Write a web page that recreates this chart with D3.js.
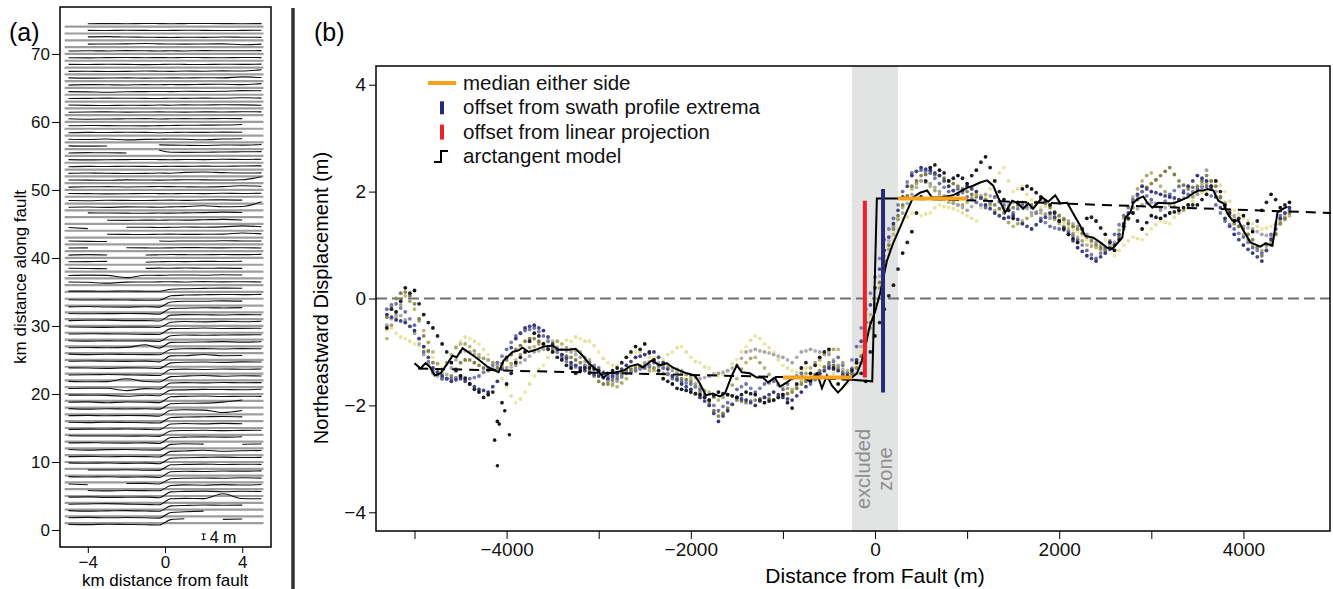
<!DOCTYPE html>
<html>
<head>
<meta charset="utf-8">
<script src="https://cdn.jsdelivr.net/npm/d3@7"></script>
<style>
  body { margin: 0; background: #fff; }
  svg { display: block; font-family: 'Liberation Sans', Arial, sans-serif; }
</style>
</head>
<body>
<div id="chart"></div>
<script>
'use strict';

// ---------- panel (a): one elevation profile per km along the fault ----------
const profileKm = d3.range(1, 75);
const profileX = [-5, -4, -3, -2, -1, -0.3, 0.3, 1, 2, 3, 4, 5]; // km from fault
// metres above each grey baseline, 'x' = no data
const profileRows = [
  '-0.8 -1.0 -0.7 -0.9 -1.1 -1.3 2.5 3.1 x 2.7 2.9 x',
  '-0.9 -0.7 -1.0 -0.8 -1.0 -1.2 2.7 3.2 3.7 x 3.1 x',
  '-0.7 -1.1 -0.9 -0.7 -1.0 -1.2 2.6 2.9 3.2 3.0 3.1 x',
  '-1.0 -0.8 -0.6 -0.9 -1.2 -1.4 2.8 3.1 2.9 6.3 3.0 2.8',
  '-0.8 -0.6 -1.0 -0.9 -0.8 -1.2 2.9 3.2 3.4 3.0 3.3 3.1',
  'x -0.9 -1.2 -0.9 -1.0 -1.1 2.6 3.0 2.8 3.2 2.9 3.3',
  '-1.1 -1.6 x -0.8 -0.7 -1.1 2.5 2.9 3.1 2.9 3.2 3.0',
  '-0.7 -1.0 -0.8 -1.1 -0.9 -1.3 2.7 3.0 2.9 3.2 3.1 3.3',
  'x -0.8 -0.9 -0.7 -1.0 -1.1 2.8 3.1 3.3 3.0 3.2 3.1',
  '-0.6 -0.9 -0.7 -1.0 -0.8 -1.2 2.6 3.0 3.2 3.4 3.1 3.2',
  '-1.0 -0.8 -1.1 -0.9 -1.0 -1.3 2.7 2.9 3.5 2.8 3.1 3.3',
  '-0.8 -1.2 -0.9 -0.8 -1.1 -1.2 2.8 3.2 3.0 x 2.9 3.1',
  '-0.9 -0.7 -1.0 -1.1 -0.9 -1.3 2.9 3.1 3.3 3.1 3.4 x',
  '-0.7 -0.9 -0.8 -1.0 -0.9 -1.1 2.7 3.0 3.2 2.9 3.1 3.2',
  '-1.0 -0.8 -0.9 -0.7 -1.0 -1.2 2.8 3.1 2.9 3.2 3.0 x',
  '-0.8 -1.0 -0.7 -0.9 -1.1 -1.3 2.6 2.9 3.1 3.3 3.0 x',
  '-0.9 -0.7 -1.0 -0.8 -0.9 -1.2 2.9 3.2 3.0 1.3 2.7 x',
  '-0.7 -1.1 -0.8 -1.0 -0.8 -1.1 2.7 3.0 3.1 3.8 5.3 x',
  '-1.0 -0.8 -1.4 -0.9 -1.0 -1.3 2.8 3.1 3.3 3.0 3.2 3.1',
  '-0.8 -0.9 -1.0 -1.6 -0.9 -1.2 2.7 2.9 3.2 3.1 3.0 3.3',
  '-0.9 -0.7 -0.8 -2.4 -1.0 -1.3 2.9 3.2 3.0 3.3 3.1 3.2',
  '-0.7 -1.0 -0.9 1.1 -0.8 -1.1 2.6 3.0 3.4 2.9 3.2 3.1',
  '-1.0 -0.8 -0.7 -0.9 -1.1 -1.4 2.8 3.1 2.9 3.2 3.0 3.2',
  '-0.8 -0.9 -1.1 -0.8 -0.9 -1.2 2.7 3.2 3.3 3.1 3.4 3.3',
  '-0.9 -0.7 -0.9 -1.0 -0.8 -1.3 2.9 3.0 3.8 3.0 3.1 x',
  '-0.7 -1.0 -0.8 -0.9 -1.0 -1.1 2.6 3.1 3.2 2.9 3.2 3.1',
  '-1.0 -0.8 -1.0 -0.7 1.1 -1.2 2.8 2.9 3.1 3.3 3.0 3.2',
  '-0.8 -1.1 -0.9 -1.0 -0.9 -1.3 2.7 3.2 3.0 3.2 3.3 3.4',
  '-0.9 -0.7 -0.8 -0.9 -1.1 -1.2 2.9 3.0 3.3 3.0 3.1 3.2',
  '-0.7 -0.9 -1.0 -0.8 -0.8 -1.1 2.6 3.1 2.9 3.2 3.0 3.3',
  '-1.0 -0.8 -0.7 -1.0 -1.0 -1.3 2.8 3.2 3.1 2.9 3.2 3.1',
  '-0.8 -1.0 -0.9 -0.8 -0.9 -1.2 2.7 2.9 3.2 3.1 3.3 x',
  '-0.9 -0.7 -1.0 -1.1 -0.8 -1.1 2.5 3.0 3.0 3.3 3.1 x',
  '-0.7 -0.9 -0.8 -0.9 -1.0 -1.0 2.1 2.6 2.8 3.0 2.9 3.1',
  '0.6 0.6 0.5 0.7 0.5 0.5 1.9 2.3 2.5 2.7 2.6 x',
  '2.2 2.0 1.4 2.1 2.2 2.3 2.4 2.2 2.5 2.3 2.4 2.2',
  '2.0 2.3 2.1 0.5 2.2 2.1 2.3 2.4 2.2 2.5 2.3 x',
  '2.3 2.1 2.0 x 2.2 2.4 2.3 2.5 2.3 2.4 2.2 x',
  '2.1 2.2 2.4 x 1.8 2.1 2.3 2.2 2.4 2.3 2.5 x',
  '2.0 2.3 2.1 x 2.1 2.2 2.4 2.3 2.2 2.4 2.3 2.5',
  '2.2 2.3 x 2.4 2.3 2.2 2.3 2.5 2.4 2.3 2.4 2.2',
  '2.4 2.1 2.0 x x 2.3 2.2 2.4 2.3 2.5 2.4 2.3',
  '1.8 x 2.3 2.2 2.1 2.3 2.4 2.2 2.3 2.4 3.2 2.6',
  '2.3 1.5 x 2.4 2.5 2.3 2.4 2.6 2.5 2.7 3.4 2.8',
  'x x 2.6 2.5 2.7 2.6 2.8 2.7 2.9 3.2 2.8 x',
  'x 3.0 2.9 2.8 2.7 2.9 2.8 3.0 3.2 3.5 3.3 x',
  '2.2 2.3 2.1 2.4 2.3 2.2 2.4 2.6 3.2 2.5 2.7 6.0',
  '2.1 2.0 2.3 2.2 2.1 2.3 2.4 2.2 2.5 2.6 2.4 x',
  '2.3 2.2 2.0 2.1 2.3 2.2 2.1 2.3 2.2 2.4 2.3 2.5',
  '2.0 2.2 2.3 2.1 2.2 2.4 2.3 2.2 2.1 2.3 2.9 2.6',
  '2.2 2.1 2.0 2.3 2.2 2.1 2.2 2.4 2.3 2.2 2.4 4.5',
  '2.1 2.3 2.2 2.0 2.1 2.3 2.2 2.8 3.0 2.6 2.3 2.4',
  '2.0 2.2 2.1 2.3 2.2 2.1 2.3 2.2 2.4 2.3 2.5 2.6',
  '2.2 2.0 2.1 2.2 2.3 2.2 2.1 2.3 2.2 2.4 2.3 2.5',
  '2.1 2.3 2.2 2.1 x 4.0 2.6 2.5 2.6 2.8 2.9 3.0',
  '2.3 2.1 2.2 x x 3.0 2.8 2.7 2.6 2.9 2.8 3.2',
  '2.2 2.0 2.3 1.7 2.1 2.2 2.3 2.2 1.8 2.3 2.5 x',
  '2.0 2.2 2.1 2.3 2.2 2.0 2.1 2.3 2.2 2.4 2.3 x',
  '2.1 2.3 2.2 2.1 2.0 2.2 2.3 2.4 2.5 2.6 3.0 x',
  '2.2 1.9 2.1 2.2 2.3 2.1 2.2 2.3 2.2 2.4 2.3 x',
  '2.0 2.2 2.3 2.1 2.2 2.3 2.2 2.1 2.3 2.2 2.4 2.3',
  '2.3 2.1 2.0 2.2 2.1 2.3 2.2 2.4 2.3 2.5 2.4 2.2',
  '2.1 2.2 2.4 2.3 2.2 2.1 2.3 2.2 2.4 2.3 2.6 2.4',
  '2.2 2.0 1.7 2.1 2.2 2.3 2.2 2.4 2.3 2.4 2.9 2.8',
  '2.0 2.3 2.2 2.1 2.3 2.2 2.4 2.3 2.5 2.6 2.3 3.0',
  '2.3 2.1 2.2 2.3 2.1 2.2 2.3 2.2 2.4 2.3 3.0 2.5',
  '2.1 2.2 2.0 2.1 2.3 2.2 2.1 2.3 2.2 2.4 2.3 3.2',
  '2.2 2.1 2.3 2.2 2.0 2.1 2.3 2.2 2.1 2.3 2.2 2.4',
  '2.1 2.0 2.2 2.3 2.1 2.2 2.1 2.3 2.2 2.1 2.3 2.2',
  '2.0 2.2 2.1 2.3 2.2 2.1 2.2 2.1 2.3 2.2 2.2 2.3',
  'x 2.1 2.2 2.3 2.5 2.3 2.2 2.1 2.2 2.3 1.7 2.1',
  'x 2.4 2.6 2.3 2.2 2.1 2.0 2.2 2.1 2.3 2.2 2.1',
  'x 2.2 2.1 2.3 2.2 2.1 2.2 2.3 2.2 2.1 2.2 2.3',
  'x 2.1 2.2 2.1 2.3 2.2 2.1 2.2 2.3 2.2 2.1 2.2'
];
const profileTicksY = [0, 10, 20, 30, 40, 50, 60, 70];
const profileTicksX = [-4, 0, 4];

// ---------- panel (b): swath profiles across the fault ----------
const swathX = d3.range(-5300, 4501, 100);   // sample positions, set 1 (m)
const swathX2 = d3.range(-5250, 4451, 100);  // sample positions, set 2 (m)

const swathPale = [
  -0.6,-0.65,-0.75,-0.85,-0.95,-1.1,-1.3,-1.05,-0.8,-0.75,
  -0.85,-1.05,-1.3,-1.65,-1.95,-1.75,-1.45,-1.25,-1.0,-0.85,
  -0.8,-0.75,-0.8,-1.0,-1.2,-1.25,-1.1,-1.0,-1.05,-1.1,
  -1.15,-1.0,-0.9,-1.1,-1.2,-1.3,-1.45,-1.35,-1.15,-0.9,
  -0.7,-0.85,-1.0,-1.25,-1.35,-1.35,-1.3,-1.25,-1.3,-1.35,
  -1.6,-1.25,-0.7,0.0,0.5,1.1,1.5,1.6,1.55,1.6,
  1.75,1.7,1.65,1.55,1.45,1.9,2.2,2.45,2.0,2.1,
  1.85,1.7,1.75,1.5,1.35,1.25,1.1,0.95,1.1,0.8,
  1.0,1.15,1.1,1.3,1.45,1.4,1.65,1.7,1.95,2.0,
  2.2,2.0,1.65,1.5,1.4,1.3,1.35,1.5,1.6];
const swathKhaki = [
  -0.75,-0.35,0.05,-0.2,-0.6,-1.0,-1.4,-1.05,-0.85,-0.9,
  -1.05,-1.15,-1.2,-1.3,-1.15,-1.0,-0.9,-0.85,-0.8,-0.85,
  -0.95,-1.0,-1.15,-1.35,-1.55,-1.65,-1.5,-1.35,-1.3,-1.35,
  -1.3,-1.3,-1.35,-1.5,-1.65,-1.75,-1.9,-1.8,-1.5,-1.2,
  -1.1,-1.3,-1.5,-1.65,-1.7,-1.55,-1.3,-1.15,-1.0,-0.95,
  -1.35,-1.4,-0.9,-0.2,0.6,1.2,1.7,2.05,2.2,2.1,
  1.95,1.8,1.75,1.8,1.95,1.85,1.65,1.5,1.35,1.45,
  1.55,1.6,1.55,1.4,1.3,1.15,1.0,0.95,0.9,1.05,
  1.5,1.9,2.2,2.35,2.1,1.9,1.6,1.75,2.0,2.15,
  2.0,1.8,1.5,1.2,1.0,0.9,1.05,1.4,1.55];
const swathGray = [
  -0.5,-0.3,-0.4,-0.65,-1.05,-1.4,-1.5,-1.3,-1.0,-1.0,
  -1.1,-1.15,-1.25,-1.3,-1.25,-1.15,-1.0,-0.95,-0.9,-0.95,
  -1.0,-1.1,-1.25,-1.4,-1.55,-1.55,-1.4,-1.3,-1.2,-1.15,
  -1.25,-1.35,-1.4,-1.45,-1.5,-1.45,-1.4,-1.35,-1.25,-1.0,
  -0.95,-1.0,-1.05,-1.1,-1.2,-1.0,-0.95,-1.0,-1.05,-1.25,
  -1.4,-1.2,-0.6,0.0,0.8,1.35,1.6,1.95,2.2,2.15,
  2.0,1.85,1.75,1.65,1.8,1.95,1.9,1.7,1.8,1.75,
  1.6,1.65,1.5,1.55,1.45,1.35,1.2,1.05,0.95,1.05,
  1.35,1.6,1.75,1.8,1.65,1.75,1.85,1.9,1.95,2.4,
  2.0,1.75,1.55,1.35,1.3,1.2,1.15,1.45,1.6];
const swathOlive = [
  -0.35,0.0,0.12,-0.1,-0.7,-1.2,-1.5,-1.45,-1.2,-1.15,
  -1.25,-1.35,-1.3,-1.15,-0.95,-0.8,-0.75,-0.85,-0.95,-1.05,
  -1.1,-1.2,-1.35,-1.55,-1.6,-1.45,-1.35,-1.3,-1.25,-1.3,
  -1.4,-1.45,-1.5,-1.55,-1.75,-1.95,-2.2,-2.05,-1.9,-1.95,
  -1.9,-1.85,-1.9,-1.8,-1.75,-1.6,-1.5,-1.35,-1.2,-1.3,
  -1.45,-1.3,-0.8,-0.1,0.7,1.3,1.75,2.1,2.3,2.35,
  2.3,2.2,2.1,2.0,1.9,1.85,1.75,1.6,1.7,1.8,
  1.75,1.85,1.7,1.55,1.4,1.3,1.15,1.0,0.9,1.0,
  1.3,1.7,2.0,2.15,2.3,2.45,2.2,2.05,2.1,2.3,
  2.1,1.7,1.4,1.3,1.1,0.8,1.0,1.4,1.6];
const swathSlate = [
  -0.2,-0.1,-0.25,-0.5,-1.0,-1.35,-1.5,-1.5,-1.45,-1.5,
  -1.45,-1.3,-1.2,-0.95,-0.7,-0.6,-0.55,-0.7,-0.9,-1.1,
  -1.25,-1.3,-1.2,-1.3,-1.45,-1.5,-1.4,-1.35,-1.3,-1.2,
  -1.3,-1.5,-1.55,-1.6,-1.7,-1.9,-2.1,-1.95,-1.7,-1.6,
  -1.75,-1.6,-1.55,-1.7,-1.5,-1.4,-1.6,-1.45,-1.25,-1.1,
  -1.4,-0.9,-0.2,0.4,1.1,1.5,2.0,2.35,2.4,2.35,
  2.15,2.0,2.05,1.9,1.8,1.7,1.9,1.75,1.6,1.75,
  1.7,1.5,1.35,1.3,1.25,1.1,0.9,0.75,0.95,1.2,
  1.55,1.85,2.0,1.85,1.7,1.95,2.1,1.95,2.05,2.1,
  1.75,1.45,1.3,1.15,0.95,0.85,1.2,1.55,1.65];
const swathNavy = [
  -0.3,-0.4,-0.45,-0.6,-0.9,-1.3,-1.45,-1.55,-1.5,-1.6,
  -1.7,-1.75,-1.55,-1.1,-0.75,-0.55,-0.5,-0.6,-0.85,-1.05,
  -1.2,-1.3,-1.4,-1.45,-1.5,-1.4,-1.25,-1.1,-1.05,-1.0,
  -1.2,-1.45,-1.6,-1.7,-1.85,-2.0,-2.3,-2.1,-1.85,-1.9,
  -2.0,-1.85,-1.75,-1.85,-1.9,-1.75,-1.55,-1.4,-1.3,-1.35,
  -1.5,-1.15,-0.45,0.2,0.9,1.4,1.9,2.3,2.45,2.4,
  2.3,2.1,1.95,2.1,2.0,1.75,1.6,1.5,1.55,1.4,
  1.3,1.45,1.6,1.45,1.2,0.95,0.8,0.7,0.85,1.0,
  1.4,1.8,2.1,2.0,1.95,1.9,1.85,2.1,2.3,2.2,
  1.9,1.5,1.2,1.0,0.85,0.7,1.1,1.5,1.7];
const swathBlack = [
  -0.55,-0.25,0.2,0.15,-0.3,-0.55,-0.85,-1.2,-1.45,-1.6,
  -1.75,-1.8,-2.3,-1.6,-1.2,-1.0,-0.65,-0.85,-1.0,-1.15,
  -1.3,-1.35,-1.3,-1.35,-1.4,-1.3,-1.1,-0.9,-0.85,-1.15,
  -1.5,-1.6,-1.7,-1.75,-1.8,-1.9,-1.75,-1.8,-1.85,-1.75,
  -1.8,-1.95,-1.9,-1.8,-2.05,-1.3,-1.4,-1.1,-0.95,-1.6,
  -1.45,-1.2,-1.55,-0.7,-0.2,0.25,0.85,1.25,1.9,2.45,
  2.4,2.2,2.3,2.15,2.4,2.65,2.2,1.85,1.5,2.05,
  2.05,1.9,1.75,1.45,1.2,1.05,1.5,1.45,1.2,0.9,
  1.35,1.6,1.3,1.55,1.5,1.6,1.65,1.75,1.75,1.95,
  2.2,1.75,1.45,1.55,1.25,1.65,1.95,1.7,1.8];

const swathPale2 = [
  -0.55,-0.72,-0.8,-0.88,-1.0,-1.22,-1.2,-0.9,-0.72,-0.8,
  -0.95,-1.2,-1.5,-1.82,-1.88,-1.6,-1.32,-1.1,-0.9,-0.78,
  -0.72,-0.8,-0.88,-1.12,-1.25,-1.2,-1.02,-1.0,-1.1,-1.08,
  -1.05,-0.92,-1.0,-1.18,-1.28,-1.4,-1.42,-1.22,-1.0,-0.78,
  -0.75,-0.92,-1.15,-1.3,-1.38,-1.3,-1.25,-1.3,-1.4,-1.5,
  -1.45,-1.0,-0.35,0.25,0.8,1.3,1.52,1.6,1.58,1.7,
  1.72,1.68,1.6,1.5,1.7,2.05,2.35,2.2,2.05,1.95,
  1.78,1.72,1.62,1.42,1.3,1.18,1.02,1.02,0.95,0.9,
  1.08,1.12,1.2,1.38,1.42,1.52,1.68,1.82,1.98,2.12,
  2.12,1.82,1.58,1.45,1.35,1.32,1.42,1.55];
const swathKhaki2 = [
  -0.5,-0.12,-0.05,-0.42,-0.82,-1.22,-1.2,-0.92,-0.85,-0.98,
  -1.12,-1.2,-1.28,-1.22,-1.05,-0.92,-0.85,-0.8,-0.8,-0.92,
  -0.98,-1.1,-1.28,-1.48,-1.62,-1.58,-1.4,-1.3,-1.35,-1.28,
  -1.28,-1.32,-1.42,-1.6,-1.72,-1.85,-1.85,-1.62,-1.32,-1.12,
  -1.2,-1.42,-1.6,-1.68,-1.62,-1.4,-1.2,-1.05,-0.95,-1.2,
  -1.42,-1.2,-0.55,0.2,0.92,1.48,1.9,2.15,2.18,2.02,
  1.85,1.78,1.75,1.88,1.92,1.75,1.55,1.42,1.4,1.5,
  1.6,1.58,1.48,1.35,1.22,1.08,0.98,0.92,0.95,1.28,
  1.72,2.05,2.3,2.22,2.0,1.72,1.65,1.9,2.1,2.1,
  1.9,1.65,1.35,1.1,0.95,0.98,1.22,1.48];
const swathGray2 = [
  -0.38,-0.32,-0.52,-0.85,-1.22,-1.45,-1.42,-1.15,-0.98,-1.05,
  -1.12,-1.2,-1.28,-1.28,-1.2,-1.08,-0.98,-0.92,-0.92,-0.98,
  -1.05,-1.18,-1.32,-1.48,-1.58,-1.48,-1.35,-1.25,-1.18,-1.2,
  -1.3,-1.38,-1.42,-1.48,-1.48,-1.42,-1.38,-1.3,-1.12,-0.98,
  -0.98,-1.02,-1.08,-1.15,-1.1,-0.98,-0.98,-1.02,-1.15,-1.32,
  -1.3,-0.9,-0.3,0.42,1.08,1.48,1.78,2.08,2.18,2.08,
  1.92,1.8,1.7,1.72,1.88,1.92,1.8,1.75,1.78,1.68,
  1.62,1.58,1.52,1.5,1.4,1.28,1.12,1.0,1.0,1.2,
  1.48,1.68,1.78,1.72,1.7,1.8,1.88,1.92,2.15,2.2,
  1.88,1.65,1.45,1.32,1.25,1.18,1.3,1.52];
const swathOlive2 = [
  -0.12,0.1,0.05,-0.38,-0.98,-1.38,-1.5,-1.32,-1.15,-1.2,
  -1.3,-1.32,-1.22,-1.05,-0.88,-0.75,-0.8,-0.9,-1.0,-1.08,
  -1.15,-1.28,-1.45,-1.6,-1.52,-1.4,-1.32,-1.28,-1.28,-1.35,
  -1.42,-1.48,-1.52,-1.65,-1.85,-2.1,-2.15,-1.98,-1.92,-1.92,
  -1.88,-1.88,-1.85,-1.78,-1.68,-1.55,-1.42,-1.28,-1.25,-1.38,
  -1.4,-1.08,-0.45,0.3,1.0,1.55,1.92,2.2,2.32,2.32,
  2.25,2.15,2.05,1.95,1.88,1.8,1.68,1.65,1.75,1.78,
  1.8,1.78,1.62,1.48,1.35,1.22,1.08,0.95,0.95,1.15,
  1.5,1.85,2.08,2.22,2.38,2.32,2.12,2.08,2.2,2.2,
  1.9,1.55,1.35,1.2,0.95,0.9,1.2,1.5];
const swathSlate2 = [
  -0.15,-0.18,-0.38,-0.75,-1.18,-1.42,-1.5,-1.48,-1.48,-1.48,
  -1.38,-1.25,-1.08,-0.82,-0.65,-0.58,-0.62,-0.8,-1.0,-1.18,
  -1.28,-1.25,-1.25,-1.38,-1.48,-1.45,-1.38,-1.32,-1.25,-1.25,
  -1.4,-1.52,-1.58,-1.65,-1.8,-2.0,-2.02,-1.82,-1.65,-1.68,
  -1.68,-1.58,-1.62,-1.6,-1.45,-1.5,-1.52,-1.35,-1.18,-1.25,
  -1.15,-0.55,0.1,0.75,1.3,1.75,2.18,2.38,2.38,2.25,
  2.08,2.02,1.98,1.85,1.75,1.8,1.82,1.68,1.68,1.72,
  1.6,1.42,1.32,1.28,1.18,1.0,0.82,0.85,1.08,1.38,
  1.7,1.92,1.92,1.78,1.82,2.02,2.02,2.0,2.08,1.92,
  1.6,1.38,1.22,1.05,0.9,1.02,1.38,1.6];
const swathNavy2 = [
  -0.35,-0.42,-0.52,-0.75,-1.1,-1.38,-1.5,-1.52,-1.55,-1.65,
  -1.72,-1.65,-1.32,-0.92,-0.65,-0.52,-0.55,-0.72,-0.95,-1.12,
  -1.25,-1.35,-1.42,-1.48,-1.45,-1.32,-1.18,-1.08,-1.02,-1.1,
  -1.32,-1.52,-1.65,-1.78,-1.92,-2.15,-2.2,-1.98,-1.88,-1.95,
  -1.92,-1.8,-1.8,-1.88,-1.82,-1.65,-1.48,-1.35,-1.32,-1.42,
  -1.32,-0.8,-0.12,0.55,1.15,1.65,2.1,2.38,2.42,2.35,
  2.2,2.02,2.02,2.05,1.88,1.68,1.55,1.52,1.48,1.35,
  1.38,1.52,1.52,1.32,1.08,0.88,0.75,0.78,0.92,1.2,
  1.6,1.95,2.05,1.98,1.92,1.88,1.98,2.2,2.25,2.05,
  1.7,1.35,1.1,0.92,0.78,0.9,1.3,1.6];
const swathBlack2 = [
  -0.2,-0.05,0.1,-0.1,-0.45,-0.7,-1.0,-1.35,-1.5,-1.7,
  -1.85,-1.75,-1.95,-1.4,-1.1,-0.8,-0.7,-0.95,-1.1,-1.25,
  -1.4,-1.3,-1.32,-1.4,-1.35,-1.2,-1.0,-0.95,-1.0,-1.35,
  -1.55,-1.68,-1.72,-1.78,-1.85,-1.82,-1.78,-1.82,-1.8,-1.78,
  -1.9,-1.92,-1.85,-1.95,-1.6,-1.2,-1.25,-1.0,-1.3,-1.5,
  -1.35,-1.4,-1.0,-0.45,0.05,0.55,1.05,1.6,2.2,2.5,
  2.35,2.25,2.25,2.3,2.55,2.45,2.0,1.65,1.8,2.1,
  1.98,1.82,1.6,1.3,1.12,1.3,1.52,1.32,1.05,1.1,
  1.5,1.45,1.42,1.52,1.55,1.62,1.7,1.75,1.85,2.1,
  2.0,1.6,1.5,1.4,1.45,1.8,1.85,1.75];

const outlierX = [-4130, -4080, -3970, -4100, -4020];
const outlierY = [-2.65, -2.35, -2.55, -3.13, -2.1];

// running median of the swaths
const medianX = [-5000,-4935,-4880,-4837,-4780,-4717,-4640,-4587,-4543,-4478,-4337,-4196,-4087,-4033,
  -3935,-3870,-3826,-3760,-3685,-3598,-3500,-3435,-3326,-3250,-3174,-3109,-3011,-2946,-2902,-2815,
  -2728,-2663,-2576,-2522,-2424,-2337,-2261,-2196,-2120,-2043,-1957,-1902,-1837,-1761,-1685,-1630,
  -1554,-1500,-1446,-1359,-1283,-1217,-1163,-1087,-1033,-957,-891,-783,-707,-630,-576,-522,-467,
  -402,-348,-272,-196,-141,-100,-54,0,54,130,196,272,348,413,489,565,620,707,848,1000,1065,1141,
  1217,1283,1337,1413,1489,1543,1609,1663,1717,1815,1880,1957,2011,2087,2152,2228,2283,2370,2446,
  2522,2576,2630,2685,2717,2772,2804,2859,2913,2957,3011,3076,3152,3239,3315,3391,3446,3511,3565,
  3609,3674,3728,3783,3826,3880,3946,4000,4076,4185,4239,4315,4370,4435,4478];
const medianY = [-1.21,-1.31,-1.21,-1.27,-1.44,-1.40,-1.21,-1.07,-1.10,-0.93,-1.10,-1.29,-1.38,-1.16,
  -1.00,-0.97,-0.92,-1.00,-0.96,-0.90,-0.88,-0.96,-0.96,-0.94,-1.07,-1.21,-1.35,-1.48,-1.40,-1.38,
  -1.35,-1.27,-1.23,-1.29,-1.16,-1.25,-1.21,-1.29,-1.35,-1.40,-1.44,-1.59,-1.81,-1.78,-1.83,-1.78,
  -1.44,-1.25,-1.38,-1.40,-1.48,-1.48,-1.57,-1.48,-1.65,-1.57,-1.48,-1.46,-1.55,-1.40,-1.68,-1.44,-1.63,
  -1.76,-1.66,-1.50,-1.40,-1.16,-0.85,-0.50,-0.25,0.09,0.71,1.03,1.33,1.64,1.89,1.98,2.02,1.89,1.89,1.93,2.07,2.11,2.17,
  2.21,2.11,1.89,1.61,1.83,1.79,1.68,1.78,1.68,1.89,1.81,1.93,1.78,1.79,1.59,1.36,1.17,1.14,1.05,
  0.95,0.93,1.03,1.14,1.51,1.61,1.79,1.87,1.91,1.79,1.70,1.79,1.78,1.78,1.83,1.89,1.96,2.02,2.02,
  2.05,2.02,1.83,1.78,1.59,1.46,1.46,1.27,1.05,0.97,1.03,0.99,1.61,1.68,1.72];

// arctangent model fit
const modelX = [-4960, -1000, -250, -30, 20, 250, 1000, 4950];
const modelY = [-1.31, -1.47, -1.52, -1.55, 1.87, 1.87, 1.84, 1.60];
const zoneX = [-250, 250];            // excluded zone
const sideX0 = [-1000, 250];          // median either side
const sideX1 = [-250, 1000];
const sideY = [-1.48, 1.87];
const linearX = -110, linearY = [-1.48, 1.83];     // offset from linear projection
const extremaX = 87, extremaY = [-1.76, 2.05];     // offset from swath profile extrema

const legendLabels = ['median either side', 'offset from swath profile extrema',
  'offset from linear projection', 'arctangent model'];

// ---------- drawing ----------
const W = 1333, H = 589;
const svg = d3.select('#chart').append('svg').attr('width', W).attr('height', H);
svg.append('rect').attr('width', W).attr('height', H).attr('fill', '#fff');

// panel (a)
const xA = d3.scaleLinear().domain([-5.44, 5.49]).range([60, 271]);
const yA = d3.scaleLinear().domain([-2.5, 76.9]).range([547, 7]);
const kmPerMetre = 0.21; // vertical exaggeration of the profiles (see 4 m bar)

const gA = svg.append('g');
gA.selectAll('line.base')
  .data(profileKm)
  .join('line')
  .attr('class', 'base')
  .attr('x1', xA(-5.2)).attr('x2', xA(5.1))
  .attr('y1', d => yA(d)).attr('y2', d => yA(d))
  .attr('stroke', '#9d9d9d').attr('stroke-width', 2.2);

const profLine = d3.line()
  .defined(d => d.v !== null)
  .x(d => xA(d.x))
  .y(d => yA(d.km + d.v * kmPerMetre))
  .curve(d3.curveMonotoneX);

const profiles = profileRows.map((row, i) => row.split(' ').map((t, j) => ({
  km: profileKm[i], x: profileX[j], v: t === 'x' ? null : +t
})));

gA.selectAll('path.prof')
  .data(profiles)
  .join('path')
  .attr('class', 'prof')
  .attr('d', profLine)
  .attr('fill', 'none')
  .attr('stroke', '#111')
  .attr('stroke-width', 1.1);

gA.append('rect')
  .attr('x', 60).attr('y', 7).attr('width', 211).attr('height', 540)
  .attr('fill', 'none').attr('stroke', '#000').attr('stroke-width', 1.5);

gA.append('g')
  .attr('transform', 'translate(60,0)')
  .call(d3.axisLeft(yA).tickValues(profileTicksY).tickSize(8).tickPadding(2))
  .call(g => g.select('.domain').remove())
  .call(g => g.selectAll('text').attr('font-size', 17).attr('fill', '#111'));

gA.append('g')
  .attr('transform', 'translate(0,547)')
  .call(d3.axisBottom(xA).tickValues(profileTicksX).tickSize(6).tickPadding(3))
  .call(g => g.select('.domain').remove())
  .call(g => g.selectAll('text').attr('font-size', 17).attr('fill', '#111'));

gA.append('text').attr('x', xA(0)).attr('y', 586).attr('text-anchor', 'middle')
  .attr('font-size', 17).text('km distance from fault');
gA.append('text').attr('transform', 'translate(26,277) rotate(-90)').attr('text-anchor', 'middle')
  .attr('font-size', 17).text('km distance along fault');

// 4 m scale bar
const barX = xA(2), barMid = yA(-1);
const barHalf = (yA(0) - yA(4 * kmPerMetre)) / 2;
gA.append('path')
  .attr('d', `M${barX - 2},${barMid - barHalf}h4M${barX},${barMid - barHalf}V${barMid + barHalf}M${barX - 2},${barMid + barHalf}h4`)
  .attr('stroke', '#000').attr('stroke-width', 1);
gA.append('text').attr('x', barX + 6).attr('y', barMid + 6).attr('font-size', 16).text('4 m');

svg.append('text').attr('x', 9).attr('y', 41).attr('font-size', 25).text('(a)');

// separator between panels
svg.append('line').attr('x1', 293).attr('x2', 293).attr('y1', 8).attr('y2', H)
  .attr('stroke', '#333').attr('stroke-width', 3.5);

// panel (b)
const xB = d3.scaleLinear().domain([-5418, 4940]).range([376, 1330]);
const yB = d3.scaleLinear().domain([-4.35, 4.35]).range([531, 66]);
const gB = svg.append('g');

gB.append('rect')
  .attr('x', xB(zoneX[0])).attr('width', xB(zoneX[1]) - xB(zoneX[0]))
  .attr('y', yB(4.35)).attr('height', yB(-4.35) - yB(4.35))
  .attr('fill', '#e2e3e3');

gB.append('line')
  .attr('x1', xB(-5418)).attr('x2', xB(4940)).attr('y1', yB(0)).attr('y2', yB(0))
  .attr('stroke', '#707070').attr('stroke-width', 2).attr('stroke-dasharray', '11,5');

const swaths = [
  { xs: swathX, vals: swathPale, color: '#ece8a4' },
  { xs: swathX2, vals: swathPale2, color: '#e4e0a0' },
  { xs: swathX, vals: swathKhaki, color: '#bcb87c' },
  { xs: swathX2, vals: swathGray2, color: '#b0b0aa' },
  { xs: swathX, vals: swathGray, color: '#a3a3a0' },
  { xs: swathX2, vals: swathKhaki2, color: '#aaa66c' },
  { xs: swathX, vals: swathOlive, color: '#8c894f' },
  { xs: swathX2, vals: swathOlive2, color: '#7f7c48' },
  { xs: swathX, vals: swathSlate, color: '#6c6ea8' },
  { xs: swathX2, vals: swathSlate2, color: '#7d7fb0' },
  { xs: swathX, vals: swathNavy, color: '#34367a' },
  { xs: swathX2, vals: swathNavy2, color: '#44468a' },
  { xs: swathX, vals: swathBlack, color: '#151515' },
  { xs: swathX2, vals: swathBlack2, color: '#222233' }
];

swaths.forEach(s => {
  gB.append('g').selectAll('circle')
    .data(s.vals)
    .join('circle')
    .attr('cx', (d, i) => xB(s.xs[i]))
    .attr('cy', d => yB(d))
    .attr('r', 1.9)
    .attr('fill', s.color);
});

gB.append('g').selectAll('circle')
  .data(outlierY)
  .join('circle')
  .attr('cx', (d, i) => xB(outlierX[i]))
  .attr('cy', d => yB(d))
  .attr('r', 1.8)
  .attr('fill', '#151515');

// running median
const medLine = d3.line().x(d => xB(d[0])).y(d => yB(d[1]));
gB.append('path')
  .attr('d', medLine(d3.zip(medianX, medianY)))
  .attr('fill', 'none').attr('stroke', '#000').attr('stroke-width', 2);

// arctangent model: dashed outside the excluded zone, solid inside
const model = d3.zip(modelX, modelY);
const modelParts = [
  { pts: model.filter(d => d[0] <= zoneX[0]), dash: '10,7' },
  { pts: model.filter(d => d[0] >= zoneX[0] && d[0] <= zoneX[1]), dash: null },
  { pts: model.filter(d => d[0] >= zoneX[1]), dash: '10,7' }
];
modelParts.forEach(p => {
  gB.append('path')
    .attr('d', medLine(p.pts))
    .attr('fill', 'none').attr('stroke', '#000').attr('stroke-width', 2)
    .attr('stroke-dasharray', p.dash);
});

// median either side
gB.selectAll('line.side')
  .data(sideY)
  .join('line')
  .attr('class', 'side')
  .attr('x1', (d, i) => xB(sideX0[i])).attr('x2', (d, i) => xB(sideX1[i]))
  .attr('y1', d => yB(d)).attr('y2', d => yB(d))
  .attr('stroke', '#f6a21c').attr('stroke-width', 4);

gB.append('line')
  .attr('x1', xB(linearX)).attr('x2', xB(linearX))
  .attr('y1', yB(linearY[0])).attr('y2', yB(linearY[1]))
  .attr('stroke', '#ec2229').attr('stroke-width', 4);

gB.append('line')
  .attr('x1', xB(extremaX)).attr('x2', xB(extremaX))
  .attr('y1', yB(extremaY[0])).attr('y2', yB(extremaY[1]))
  .attr('stroke', '#272a78').attr('stroke-width', 4);

// excluded zone label
const zoneMid = xB((zoneX[0] + zoneX[1]) / 2);
gB.append('text')
  .attr('transform', `translate(${zoneMid - 5},469) rotate(-90)`)
  .attr('text-anchor', 'middle').attr('font-size', 20).attr('fill', '#8e8e8e')
  .selectAll('tspan')
  .data(['excluded', 'zone'])
  .join('tspan')
  .attr('x', 0).attr('dy', (d, i) => i ? '1.1em' : 0)
  .text(d => d);

// frame and axes
gB.append('rect')
  .attr('x', 376).attr('y', 66).attr('width', 954).attr('height', 465)
  .attr('fill', 'none').attr('stroke', '#000').attr('stroke-width', 1.5);

gB.append('g')
  .attr('transform', 'translate(376,0)')
  .call(d3.axisLeft(yB).tickValues([-4, -2, 0, 2, 4]).tickSize(7).tickPadding(3))
  .call(g => g.select('.domain').remove())
  .call(g => g.selectAll('text').attr('font-size', 19).attr('fill', '#111'));

gB.append('g')
  .attr('transform', 'translate(0,531)')
  .call(d3.axisBottom(xB).tickValues(d3.range(-5000, 4001, 1000)).tickSize(8).tickPadding(4)
    .tickFormat(d => d % 2000 === 0 ? d3.format('d')(d).replace('-', '\u2212') : ''))
  .call(g => g.select('.domain').remove())
  .call(g => g.selectAll('text').attr('font-size', 19).attr('fill', '#111'));

gB.append('text').attr('x', xB(0)).attr('y', 583).attr('text-anchor', 'middle')
  .attr('font-size', 21).text('Distance from Fault (m)');
gB.append('text').attr('transform', 'translate(328,298) rotate(-90)').attr('text-anchor', 'middle')
  .attr('font-size', 20).text('Northeastward Displacement (m)');

svg.append('text').attr('x', 314).attr('y', 41).attr('font-size', 25).text('(b)');

// legend
const legend = gB.append('g').attr('transform', 'translate(428,83)');
const rowH = 24.3;
legend.selectAll('text')
  .data(legendLabels)
  .join('text')
  .attr('x', 35).attr('y', (d, i) => i * rowH + 7)
  .attr('font-size', 20.5).attr('fill', '#111')
  .text(d => d);
legend.append('line').attr('x1', 0).attr('x2', 28).attr('y1', 0).attr('y2', 0)
  .attr('stroke', '#f6a21c').attr('stroke-width', 4);
legend.append('line').attr('x1', 14).attr('x2', 14).attr('y1', rowH - 6).attr('y2', rowH + 7)
  .attr('stroke', '#272a78').attr('stroke-width', 4);
legend.append('line').attr('x1', 14).attr('x2', 14).attr('y1', 2 * rowH - 7).attr('y2', 2 * rowH + 8)
  .attr('stroke', '#ec2229').attr('stroke-width', 4);
legend.append('path')
  .attr('d', `M6,${3 * rowH + 6}H13V${3 * rowH - 5}H20`)
  .attr('fill', 'none').attr('stroke', '#000').attr('stroke-width', 2);
</script>
</body>
</html>
